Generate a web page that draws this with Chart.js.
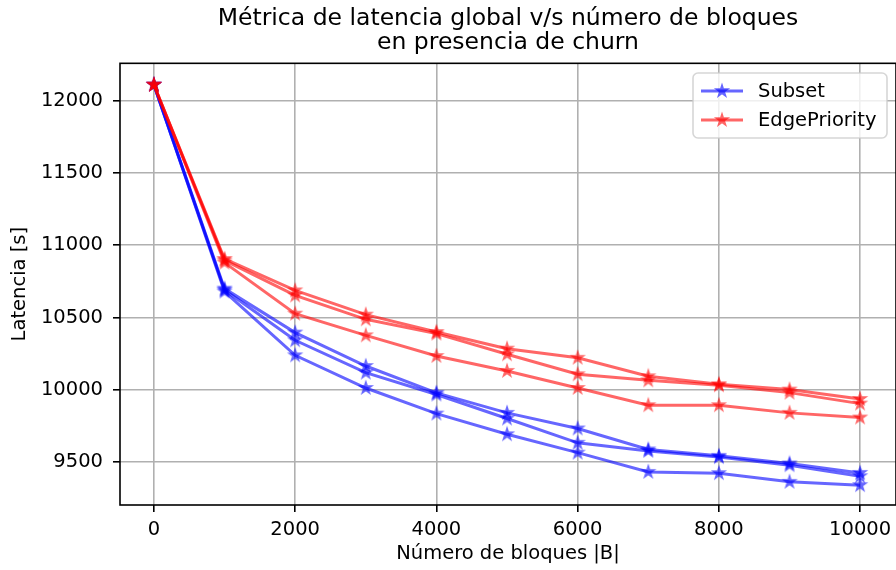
<!DOCTYPE html>
<html>
<head>
<meta charset="utf-8">
<script src="https://cdn.jsdelivr.net/npm/chart.js@4.4.1/dist/chart.umd.min.js"></script>
<style>
  html, body { margin: 0; padding: 0; background: #fff; overflow: hidden; }
  #wrap { position: relative; width: 896px; height: 570px; }
</style>
</head>
<body>
<div id="wrap"><canvas id="chartLatencia"></canvas></div>
<script>
Chart.defaults.font.family = "'DejaVu Sans', sans-serif";
Chart.defaults.color = '#000';

// datos
const bloques = [0, 1000, 2000, 3000, 4000, 5000, 6000, 7000, 8000, 9000, 10000];
const subset1 = [12110, 10700, 10396, 10165, 9979, 9841, 9733, 9588, 9544, 9491, 9426];
const subset2 = [12110, 10690, 10343, 10119, 9968, 9802, 9634, 9578, 9535, 9479, 9403];
const subset3 = [12110, 10680, 10239, 10013, 9836, 9693, 9566, 9433, 9424, 9364, 9341];
const edge1 = [12110, 10905, 10688, 10520, 10400, 10285, 10222, 10094, 10039, 10002, 9937];
const edge2 = [12110, 10895, 10653, 10488, 10389, 10246, 10108, 10066, 10032, 9981, 9905];
const edge3 = [12110, 10880, 10527, 10377, 10234, 10131, 10013, 9894, 9894, 9841, 9809];
const xTicks = [0, 2000, 4000, 6000, 8000, 10000];
const yTicks = [9500, 10000, 10500, 11000, 11500, 12000];
const leyenda = ['Subset', 'EdgePriority'];

const AZUL = 'rgba(0,0,255,0.6)';
const ROJO = 'rgba(255,0,0,0.6)';

// estrella tipo marker '*' de matplotlib
function makeStar(rgb, alpha) {
    const s = 18, c = s / 2, R = 6, r = R * 0.381966;
    const base = document.createElement('canvas');
    base.width = s; base.height = s;
    const g = base.getContext('2d');
    g.beginPath();
    for (let i = 0; i < 10; i++) {
        const rad = i % 2 === 0 ? R : r;
        const a = -Math.PI / 2 + i * Math.PI / 5;
        const px = c + rad * Math.cos(a), py = c + rad * Math.sin(a);
        i === 0 ? g.moveTo(px, py) : g.lineTo(px, py);
    }
    g.closePath();
    g.fillStyle = rgb; g.strokeStyle = rgb; g.lineWidth = 1.6; g.lineJoin = 'miter';
    g.fill(); g.stroke();
    const out = document.createElement('canvas');
    out.width = s; out.height = s;
    const o = out.getContext('2d');
    o.globalAlpha = alpha;
    o.drawImage(base, 0, 0);
    return out;
}
const starAzul = makeStar('rgb(0,0,255)', 0.6);
const starRojo = makeStar('rgb(255,0,0)', 0.6);

function serie(vals, color, star) {
    return {
        data: bloques.map((b, i) => ({ x: b, y: vals[i] })),
        borderColor: color, backgroundColor: color,
        borderWidth: 3, pointStyle: star, pointRadius: 7, pointHoverRadius: 7,
        tension: 0, fill: false
    };
}

const frameLegend = {
    id: 'frameLegend',
    afterDatasetsDraw(chart) {
        const { ctx, chartArea: a } = chart;
        ctx.save();
        ctx.strokeStyle = '#000'; ctx.lineWidth = 1.6;
        ctx.strokeRect(a.left, a.top, a.right - a.left, a.bottom - a.top);
        ctx.restore();
    },
    afterDraw(chart) {
        const { ctx } = chart;
        const x0 = 693, y0 = 73, w = 194, h = 65, rr = 5;
        ctx.save();
        ctx.beginPath();
        ctx.roundRect(x0, y0, w, h, rr);
        ctx.fillStyle = 'rgba(255,255,255,0.8)';
        ctx.fill();
        ctx.strokeStyle = 'rgba(204,204,204,0.8)';
        ctx.lineWidth = 1.6;
        ctx.stroke();
        const items = [[leyenda[0], AZUL, starAzul, 91], [leyenda[1], ROJO, starRojo, 120]];
        items.forEach(([txt, col, st, yy]) => {
            ctx.strokeStyle = col; ctx.lineWidth = 3;
            ctx.beginPath(); ctx.moveTo(701, yy); ctx.lineTo(743, yy); ctx.stroke();
            ctx.drawImage(st, 722 - st.width / 2, yy - st.height / 2);
            ctx.fillStyle = '#000';
            ctx.font = "19.5px 'DejaVu Sans'";
            ctx.textBaseline = 'middle'; ctx.textAlign = 'left';
            ctx.fillText(txt, 758, yy + 1);
        });
        ctx.restore();
    }
};

new Chart(document.getElementById('chartLatencia'), {
    type: 'line',
    data: {
        datasets: [
            serie(edge1, ROJO, starRojo),
            serie(edge2, ROJO, starRojo),
            serie(edge3, ROJO, starRojo),
            serie(subset1, AZUL, starAzul),
            serie(subset2, AZUL, starAzul),
            serie(subset3, AZUL, starAzul)
        ]
    },
    options: {
        responsive: true, maintainAspectRatio: false, animation: false,
        layout: { padding: { left: 0, top: 0, bottom: 0, right: -2 }, autoPadding: false },
        plugins: {
            legend: { display: false }, tooltip: { enabled: false },
            title: {
                display: true, fullSize: false,
                text: ['Métrica de latencia global v/s número de bloques', 'en presencia de churn'],
                font: { size: 23.5, weight: 'normal', lineHeight: 1.06 },
                padding: { top: 6, bottom: 7.5 }, color: '#000'
            }
        },
        scales: {
            x: {
                type: 'linear', min: -480, max: 10508,
                afterBuildTicks: ax => { ax.ticks = xTicks.map(v => ({ value: v })); },
                afterFit: ax => { ax.height = 65; ax.paddingLeft = 0; ax.paddingRight = 0; },
                ticks: { font: { size: 19.5 }, padding: 6, maxRotation: 0, callback: v => String(v) },
                grid: { color: '#b0b0b0', lineWidth: 1.6, tickColor: '#000', tickLength: 7, tickWidth: 1.6 },
                border: { display: false },
                title: { display: true, text: 'Número de bloques |B|', font: { size: 19.5 }, padding: { top: 0, bottom: 4 } }
            },
            y: {
                type: 'linear', min: 9204, max: 12258,
                afterBuildTicks: ax => { ax.ticks = yTicks.map(v => ({ value: v })); },
                afterFit: ax => { ax.width = 120; ax.paddingTop = 0; ax.paddingBottom = 0; },
                ticks: { font: { size: 19.5 }, padding: 10, callback: v => String(v) },
                grid: { color: '#b0b0b0', lineWidth: 1.6, tickColor: '#000', tickLength: 7, tickWidth: 1.6 },
                border: { display: false },
                title: { display: true, text: 'Latencia [s]', font: { size: 19.5 }, padding: { top: 8, bottom: 0 } }
            }
        }
    },
    plugins: [frameLegend]
});
</script>
</body>
</html>
